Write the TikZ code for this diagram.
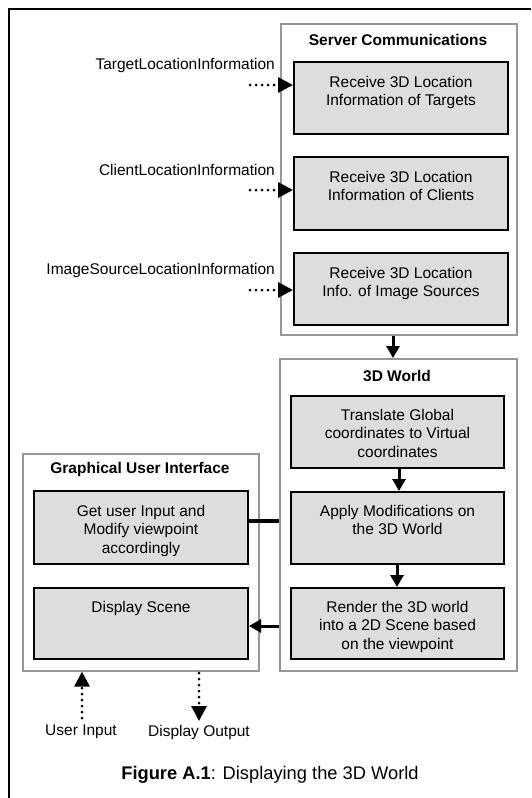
\documentclass[tikz,border=0pt]{standalone}
\usepackage{fontspec}
\setmainfont{Liberation Sans}
\usetikzlibrary{arrows.meta,positioning}
\definecolor{boxfill}{RGB}{221,221,221}
\definecolor{groupline}{RGB}{150,150,150}
\begin{document}
\begin{tikzpicture}[x=1pt,y=-1pt,
  txt/.style={font=\fontsize{15.5}{18.5}\selectfont, inner sep=0pt, align=center},
  ttl/.style={txt, font=\fontsize{15.5}{18.5}\selectfont\bfseries},
  group/.style={draw=groupline, line width=1.6pt, fill=white, inner sep=0pt, anchor=north west},
  stepbox/.style={draw=black, line width=2pt, fill=boxfill, inner sep=0pt, anchor=north west},
  flow/.style={line width=3pt, -{Triangle[length=12pt,width=13pt]}},
  link/.style={line width=3.5pt},
  dotflow/.style={line width=3pt, line cap=round, dash pattern=on 0pt off 6pt,
    -{Triangle[length=15pt,width=15pt]}}
]
\useasboundingbox (0,0) rectangle (531,798);
% outer frame
\draw[line width=1.3pt] (9,798) -- (9,9) -- (531,9);

% group containers
\node[group, minimum width=236pt, minimum height=311pt] (srv) at (280,23) {};
\node[group, minimum width=237pt, minimum height=312pt] (wld) at (279,358) {};
\node[group, minimum width=236pt, minimum height=217pt] (gui) at (22,453) {};

\node[ttl, anchor=center] (srvT) at (398,40) {Server Communications};
\node[ttl, anchor=center] (wldT) at (397,376) {3D World};
\node[ttl, anchor=center] (guiT) at (140,469) {Graphical User Interface};

% server communication steps
\node[stepbox, minimum width=214pt, minimum height=72pt] (r1) at (293,61) {};
\node[stepbox, minimum width=214pt, minimum height=73pt] (r2) at (293,156) {};
\node[stepbox, minimum width=214pt, minimum height=72pt] (r3) at (293,252) {};
\node[txt, anchor=north] (r1t) at ([yshift=-15pt]r1.north) {Receive 3D Location\\Information of Targets};
\node[txt, anchor=north] (r2t) at ([yshift=-15pt]r2.north) {Receive 3D Location\\Information of Clients};
\node[txt, anchor=north] (r3t) at ([yshift=-15pt]r3.north) {Receive 3D Location\\Info. of Image Sources};

% 3D world steps
\node[stepbox, minimum width=213pt, minimum height=72pt] (wa) at (290,395) {};
\node[stepbox, minimum width=213pt, minimum height=72pt] (wb) at (290,491) {};
\node[stepbox, minimum width=213pt, minimum height=71pt] (wc) at (290,587) {};
\node[txt, anchor=north] (wat) at ([yshift=-14pt]wa.north) {Translate Global\\coordinates to Virtual\\coordinates};
\node[txt, anchor=north] (wbt) at ([yshift=-14pt]wb.north) {Apply Modifications on\\the 3D World};
\begin{scope}
  % text frame ends just under the last baseline
  \clip (wc.north west) rectangle ([yshift=-2pt]wc.south east |- 0,651);
  \node[txt, anchor=north] (wct) at ([yshift=-14pt]wc.north) {Render the 3D world\\into a 2D Scene based\\on the viewpoint};
\end{scope}

% user interface steps
\node[stepbox, minimum width=214pt, minimum height=73pt] (ga) at (33,490) {};
\node[stepbox, minimum width=214pt, minimum height=71pt] (gb) at (33,587) {};
\begin{scope}
  \clip (ga.north west) rectangle (ga.east |- 0,555);
  \node[txt, anchor=north] (gat) at ([yshift=-15pt]ga.north) {Get user Input and\\Modify viewpoint\\accordingly};
\end{scope}
\node[txt, anchor=north] (gbt) at ([yshift=-14pt]gb.north) {Display Scene};

% incoming location information
\node[txt, anchor=east] (inT) at (275,65) {TargetLocationInformation};
\node[txt, anchor=east] (inC) at (275,170) {ClientLocationInformation};
\node[txt, anchor=east] (inI) at (275,270) {ImageSourceLocationInformation};
\coordinate (sT) at (250,85);
\coordinate (sC) at (250,190);
\coordinate (sI) at (250,290);
\draw[dotflow] (sT) -- (r1.west |- sT);
\draw[dotflow] (sC) -- (r2.west |- sC);
\draw[dotflow] (sI) -- (r3.west |- sI);

% flow between groups and steps
\draw[flow] (srv.south -| 393,0) -- (wld.north -| 393,0);
\draw[flow] (wa.south -| 399,0) -- (wb.north -| 399,0);
\draw[flow] (wb.south -| 397,0) -- (wc.north -| 397,0);
\draw[link] (ga.east |- 0,521) -- (wld.west |- 0,521);
\draw[flow] (wld.west |- 0,626) -- (gb.east |- 0,626);

% user input / display output
\node[txt, anchor=center] (uin) at (81,732) {User Input};
\node[txt, anchor=center] (dout) at (199,732) {Display Output};
\coordinate (uinS) at (82,718);
\coordinate (doutS) at (199,673);
\coordinate (doutE) at (199,721);
\draw[dotflow] (uinS) -- (gui.south -| uinS);
\draw[dotflow] (doutS) -- (doutE);

% caption
\node[txt, anchor=center, font=\fontsize{18.3}{21}\selectfont] (cap) at (270,775) {\textbf{Figure A.1}: Displaying the 3D World};
\end{tikzpicture}
\end{document}
